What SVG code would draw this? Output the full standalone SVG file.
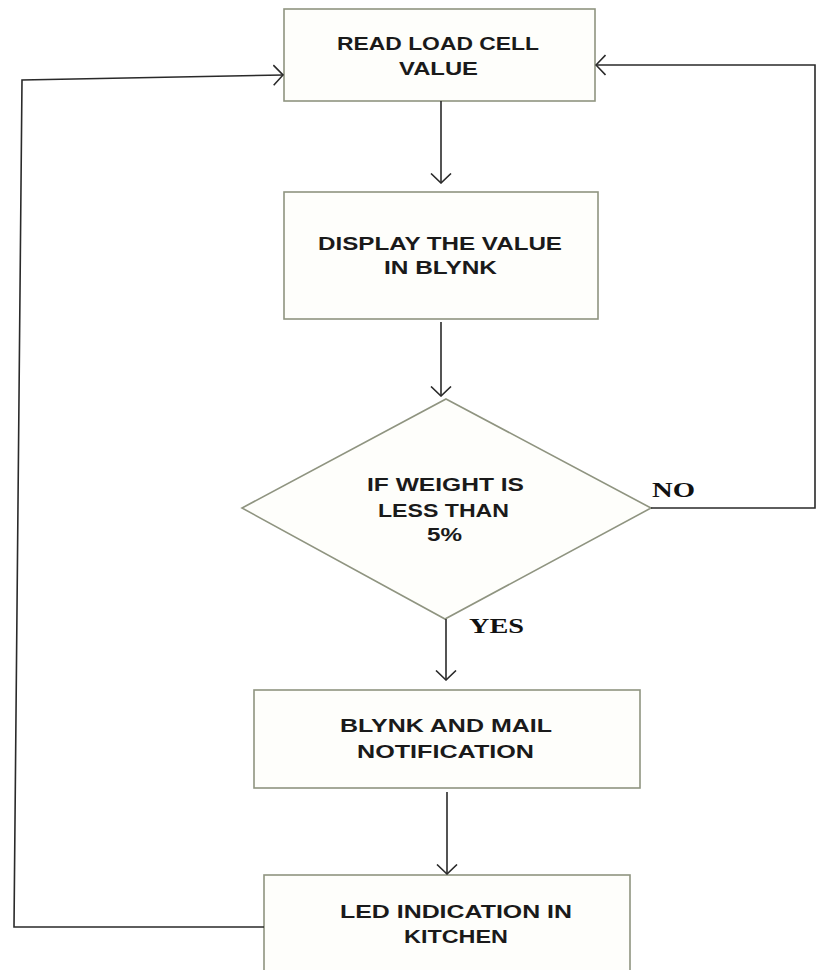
<svg xmlns="http://www.w3.org/2000/svg" width="818" height="970" viewBox="0 0 818 970">
  <style>
    .box { fill: #fefefb; stroke: #8f9480; stroke-width: 1.6; }
    .lbl { font-family: "Liberation Sans", Arial, sans-serif; font-weight: bold; font-size: 19px; fill: #1a1a1a; }
    .yn { font-family: "Liberation Serif", "Times New Roman", serif; font-weight: bold; font-size: 20px; fill: #111; }
    .conn { fill: none; stroke: #2a2a2a; stroke-width: 1.6; }
  </style>
  <defs>
    <marker id="arr" viewBox="0 0 11 22" refX="10" refY="11" markerWidth="11" markerHeight="22" markerUnits="userSpaceOnUse" orient="auto">
      <path d="M0.5,1 L10,11 L0.5,21" fill="none" stroke="#2a2a2a" stroke-width="1.6"/>
    </marker>
  </defs>
  <rect width="818" height="970" fill="#ffffff"/>

  <g id="read">
    <rect class="box" x="284" y="9" width="311" height="92"/>
    <text class="lbl" x="337" y="50" textLength="202" lengthAdjust="spacingAndGlyphs">READ LOAD CELL</text>
    <text class="lbl" x="399" y="75" textLength="79" lengthAdjust="spacingAndGlyphs">VALUE</text>
  </g>

  <g id="display">
    <rect class="box" x="284" y="192" width="314" height="127"/>
    <text class="lbl" x="318" y="250" textLength="244" lengthAdjust="spacingAndGlyphs">DISPLAY THE VALUE</text>
    <text class="lbl" x="384" y="274" textLength="113" lengthAdjust="spacingAndGlyphs">IN BLYNK</text>
  </g>

  <g id="decision">
    <polygon class="box" points="446,399 651,508 445,619 242,508"/>
    <text class="lbl" x="367" y="491" textLength="157" lengthAdjust="spacingAndGlyphs">IF WEIGHT IS</text>
    <text class="lbl" x="378" y="517" textLength="131" lengthAdjust="spacingAndGlyphs">LESS THAN</text>
    <text class="lbl" x="427" y="541" textLength="35" lengthAdjust="spacingAndGlyphs">5%</text>
  </g>

  <g id="notify">
    <rect class="box" x="254" y="690" width="386" height="98"/>
    <text class="lbl" x="340" y="732" textLength="212" lengthAdjust="spacingAndGlyphs">BLYNK AND MAIL</text>
    <text class="lbl" x="357" y="758" textLength="177" lengthAdjust="spacingAndGlyphs">NOTIFICATION</text>
  </g>

  <g id="led">
    <rect class="box" x="264" y="875" width="366" height="110"/>
    <text class="lbl" x="340" y="918" textLength="232" lengthAdjust="spacingAndGlyphs">LED INDICATION IN</text>
    <text class="lbl" x="404" y="943" textLength="104" lengthAdjust="spacingAndGlyphs">KITCHEN</text>
  </g>

  <g id="connectors">
    <line class="conn" x1="441" y1="101" x2="441" y2="183" marker-end="url(#arr)"/>
    <line class="conn" x1="441" y1="322" x2="441" y2="396" marker-end="url(#arr)"/>
    <line class="conn" x1="446" y1="619" x2="446" y2="680" marker-end="url(#arr)"/>
    <line class="conn" x1="447" y1="792" x2="447" y2="874" marker-end="url(#arr)"/>
    <polyline class="conn" points="651,508 815,508 815,65 596,65" marker-end="url(#arr)"/>
    <polyline class="conn" points="264,927 14,927 22,80 283,75" marker-end="url(#arr)"/>
    <text class="yn" x="652" y="497" textLength="43" lengthAdjust="spacingAndGlyphs">NO</text>
    <text class="yn" x="469" y="633" textLength="55" lengthAdjust="spacingAndGlyphs">YES</text>
  </g>
</svg>
